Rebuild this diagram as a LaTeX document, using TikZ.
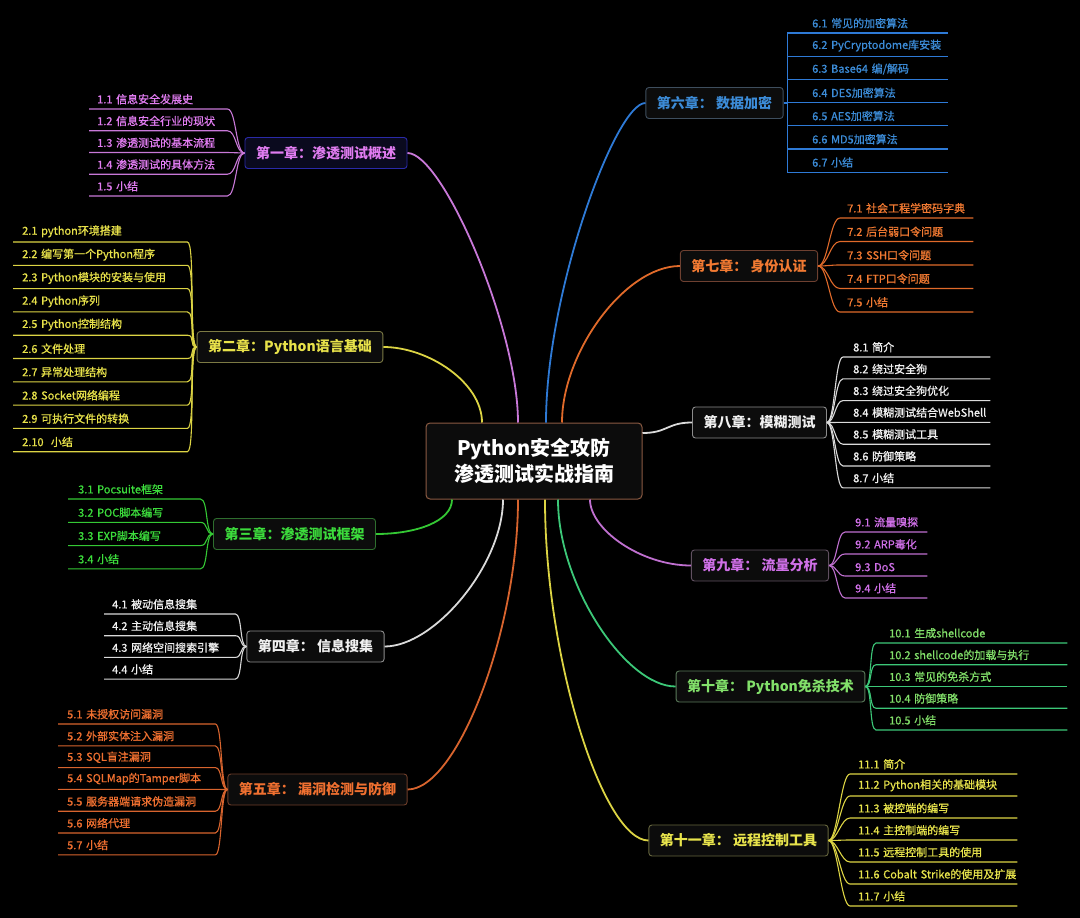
\documentclass[tikz,border=0pt]{standalone}
\usepackage{fontspec}
\setmainfont{Noto Sans CJK SC}
\newfontfamily\topicfont{Noto Sans CJK SC}[FakeBold=0.8, WordSpace=0.6]
\usepackage{tikz}
\usepackage{xcolor}

\definecolor{rootframe}{HTML}{8A5A42}
\definecolor{boxfill}{HTML}{0C0C0C}
\definecolor{c1text}{HTML}{E07CF0}  \definecolor{c1line}{HTML}{C878D8}  \definecolor{c1frame}{HTML}{2A2AA8}
\definecolor{c2text}{HTML}{E8E24A}  \definecolor{c2line}{HTML}{DCD444}  \definecolor{c2frame}{HTML}{7C7A44}
\definecolor{c3text}{HTML}{3CDC3C}  \definecolor{c3line}{HTML}{34C834}  \definecolor{c3frame}{HTML}{2E6E2E}
\definecolor{c4text}{HTML}{F0F0F0}  \definecolor{c4line}{HTML}{DADADA}  \definecolor{c4frame}{HTML}{8C8C8C}
\definecolor{c5text}{HTML}{F07030}  \definecolor{c5line}{HTML}{D8642E}  \definecolor{c5frame}{HTML}{6E3E2A}
\definecolor{c6text}{HTML}{3C8CD8}  \definecolor{c6line}{HTML}{2E7AD6}  \definecolor{c6frame}{HTML}{3E4E5E}
\definecolor{c7text}{HTML}{F27A32}  \definecolor{c7line}{HTML}{E06A2A}  \definecolor{c7frame}{HTML}{6E4030}
\definecolor{c9text}{HTML}{D070E8}  \definecolor{c9line}{HTML}{C070D0}  \definecolor{c9frame}{HTML}{605060}
\definecolor{c10text}{HTML}{82E06A} \definecolor{c10line}{HTML}{3CC878} \definecolor{c10frame}{HTML}{5A7A5A}
\definecolor{c11text}{HTML}{E8E44C} \definecolor{c11line}{HTML}{DCD444} \definecolor{c11frame}{HTML}{66663E}
\definecolor{ch1fill}{HTML}{0A0A1E}

\tikzset{
    root-box/.style = {draw=rootframe, fill=boxfill, line width=1pt, rounded corners=4pt, minimum width=216pt, minimum height=76pt, align=center, text=white, font=\bfseries\fontsize{20}{26}\selectfont},
    chapter-box/.style = {fill=boxfill, line width=0.9pt, rounded corners=3pt, minimum height=31pt, inner xsep=11pt, font=\bfseries\fontsize{14}{16}\selectfont},
    topic/.style = {anchor=south west, inner xsep=0pt, inner ysep=4.5pt, align=left, font=\topicfont\fontsize{11}{13}\selectfont},
    branch/.style = {line width=1.8pt},
    twig/.style = {line width=1.1pt},
}

\begin{document}
\begin{tikzpicture}[x=1pt, y=-1pt]
\fill[black] (0,0) rectangle (1080,918);
\useasboundingbox (0,0) rectangle (1080,918);

\node[root-box] (root) at (534,461) {Python安全攻防\\渗透测试实战指南};

% left side
\node[chapter-box, draw=c1frame, fill=ch1fill, text=c1text] (ch1) at (326,153) {第一章：渗透测试概述};
\node[chapter-box, draw=c2frame, text=c2text] (ch2) at (290,347) {第二章：Python语言基础};
\node[chapter-box, draw=c3frame, text=c3text] (ch3) at (294.5,534) {第三章：渗透测试框架};
\node[chapter-box, draw=c4frame, text=c4text] (ch4) at (315.5,646.5) {第四章： 信息搜集};
\node[chapter-box, draw=c5frame, text=c5text] (ch5) at (317.5,789.5) {第五章： 漏洞检测与防御};

% right side
\node[chapter-box, draw=c6frame, text=c6text] (ch6) at (714.5,103) {第六章： 数据加密};
\node[chapter-box, draw=c7frame, text=c7text] (ch7) at (749,266) {第七章： 身份认证};
\node[chapter-box, draw=c4frame, text=c4text] (ch8) at (759.5,422.5) {第八章：模糊测试};
\node[chapter-box, draw=c9frame, text=c9text] (ch9) at (760,565.5) {第九章： 流量分析};
\node[chapter-box, draw=c10frame, text=c10text] (ch10) at (770.5,686.5) {第十章： Python免杀技术};
\node[chapter-box, draw=c11frame, text=c11text] (ch11) at (738.5,840.5) {第十一章： 远程控制工具};

% main branches
\draw[branch, c1line] ([xshift=-16pt]root.north) .. controls +(0,-95) and +(35,0) .. (ch1.east);
\draw[branch, c2line] ([xshift=-52pt]root.north) .. controls +(0,-40) and +(45,0) .. (ch2.east);
\draw[branch, c6line] ([xshift=12pt]root.north) .. controls +(0,-130) and +(-30,0) .. (ch6.west);
\draw[branch, c7line] ([xshift=28pt]root.north) .. controls +(0,-70) and +(-55,0) .. (ch7.west);
\draw[branch, c4line] ([yshift=28pt]root.east) .. controls +(25,0) and +(-25,0) .. (ch8.west);
\draw[branch, c3line] ([xshift=-82pt]root.south) .. controls +(0,22) and +(40,0) .. (ch3.east);
\draw[branch, c4line] ([xshift=-31pt]root.south) .. controls +(0,65) and +(50,0) .. (ch4.east);
\draw[branch, c5line] ([xshift=-16pt]root.south) .. controls +(0,130) and +(50,0) .. (ch5.east);
\draw[branch, c9line] ([xshift=56pt]root.south) .. controls +(0,30) and +(-50,0) .. (ch9.west);
\draw[branch, c10line] ([xshift=24pt]root.south) .. controls +(0,85) and +(-50,0) .. (ch10.west);
\draw[branch, c11line] ([xshift=11pt]root.south) .. controls +(0,160) and +(-45,0) .. (ch11.west);

% chapter 1
\foreach \t [count=\i] in {1.1 信息安全发展史, 1.2 信息安全行业的现状, 1.3 渗透测试的基本流程, 1.4 渗透测试的具体方法, 1.5 小结} {
    \node[topic, text width=130pt, text=c1text] (ch1-\i) at (97,{109+21.75*(\i-1)}) {\mbox{\t}};
    \draw[twig, c1line] ([xshift=-8pt]ch1-\i.south west) -- (ch1-\i.south east) .. controls +(9,0) and +(-9,0) .. (ch1.west);
}
% chapter 2
\foreach \t [count=\i] in {2.1 python环境搭建, 2.2 编写第一个Python程序, 2.3 Python模块的安装与使用, 2.4 Python序列, 2.5 Python控制结构, 2.6 文件处理, 2.7 异常处理结构, 2.8 Socket网络编程, 2.9 可执行文件的转换, 2.10~~小结} {
    \node[topic, text width=165pt, text=c2text] (ch2-\i) at (22,{242+23.3*(\i-1)}) {\mbox{\t}};
    \draw[twig, c2line] ([xshift=-9pt]ch2-\i.south west) -- (ch2-\i.south east) .. controls +(8,0) and +(-8,0) .. (ch2.west);
}
% chapter 3
\foreach \t [count=\i] in {3.1 Pocsuite框架, 3.2 POC脚本编写, 3.3 EXP脚本编写, 3.4 小结} {
    \node[topic, text width=122pt, text=c3text] (ch3-\i) at (78,{499+23.3*(\i-1)}) {\mbox{\t}};
    \draw[twig, c3line] ([xshift=-10pt]ch3-\i.south west) -- (ch3-\i.south east) .. controls +(8,0) and +(-8,0) .. (ch3.west);
}
% chapter 4
\foreach \t [count=\i] in {4.1 被动信息搜集, 4.2 主动信息搜集, 4.3 网络空间搜索引擎, 4.4 小结} {
    \node[topic, text width=123pt, text=c4text] (ch4-\i) at (112,{614+21.7*(\i-1)}) {\mbox{\t}};
    \draw[twig, c4line] ([xshift=-8pt]ch4-\i.south west) -- (ch4-\i.south east) .. controls +(7,0) and +(-7,0) .. (ch4.west);
}
% chapter 5
\foreach \t [count=\i] in {5.1 未授权访问漏洞, 5.2 外部实体注入漏洞, 5.3 SQL盲注漏洞, 5.4 SQLMap的Tamper脚本, 5.5 服务器端请求伪造漏洞, 5.6 网络代理, 5.7 小结} {
    \node[topic, text width=148pt, text=c5text] (ch5-\i) at (67,{724+21.8*(\i-1)}) {\mbox{\t}};
    \draw[twig, c5line] ([xshift=-9pt]ch5-\i.south west) -- (ch5-\i.south east) .. controls +(7,0) and +(-7,0) .. (ch5.west);
}
% chapter 6
\coordinate (ch6-hub) at ([xshift=4pt]ch6.east);
\draw[twig, c6line] (ch6.east) -- (ch6-hub);
\foreach \t [count=\i] in {6.1 常见的加密算法, 6.2 PyCryptodome库安装, 6.3 Base64 编/解码, 6.4 DES加密算法, 6.5 AES加密算法, 6.6 MD5加密算法, 6.7 小结} {
    \node[topic, text width=136pt, text=c6text] (ch6-\i) at (812,{33+23.2*(\i-1)}) {\mbox{\t}};
    \draw[twig, c6line] (ch6-hub) |- (ch6-\i.south east);
}
% chapter 7
\foreach \t [count=\i] in {7.1 社会工程学密码字典, 7.2 后台弱口令问题, 7.3 SSH口令问题, 7.4 FTP口令问题, 7.5 小结} {
    \node[topic, text width=126pt, text=c7text] (ch7-\i) at (847,{218+23.5*(\i-1)}) {\mbox{\t}};
    \draw[twig, c7line] (ch7.east) .. controls +(10,0) and +(-10,0) .. ([xshift=-7pt]ch7-\i.south west) -- (ch7-\i.south east);
}
% chapter 8
\foreach \t [count=\i] in {8.1 简介, 8.2 绕过安全狗, 8.3 绕过安全狗优化, 8.4 模糊测试结合WebShell, 8.5 模糊测试工具, 8.6 防御策略, 8.7 小结} {
    \node[topic, text width=137pt, text=c4text] (ch8-\i) at (853,{357+21.8*(\i-1)}) {\mbox{\t}};
    \draw[twig, c4line] (ch8.east) .. controls +(8,0) and +(-8,0) .. ([xshift=-10pt]ch8-\i.south west) -- (ch8-\i.south east);
}
% chapter 9
\foreach \t [count=\i] in {9.1 流量嗅探, 9.2 ARP毒化, 9.3 DoS, 9.4 小结} {
    \node[topic, text width=72pt, text=c9text] (ch9-\i) at (855,{532+22*(\i-1)}) {\mbox{\t}};
    \draw[twig, c9line] (ch9.east) .. controls +(8,0) and +(-8,0) .. ([xshift=-10pt]ch9-\i.south west) -- (ch9-\i.south east);
}
% chapter 10
\foreach \t [count=\i] in {10.1 生成shellcode, 10.2 shellcode的加载与执行, 10.3 常见的免杀方式, 10.4 防御策略, 10.5 小结} {
    \node[topic, text width=178pt, text=c10text] (ch10-\i) at (889,{643+21.75*(\i-1)}) {\mbox{\t}};
    \draw[twig, c10line] (ch10.east) .. controls +(7,0) and +(-7,0) .. ([xshift=-13pt]ch10-\i.south west) -- (ch10-\i.south east);
}
% chapter 11
\foreach \t [count=\i] in {11.1 简介, 11.2 Python相关的基础模块, 11.3 被控端的编写, 11.4 主控制端的编写, 11.5 远程控制工具的使用, 11.6 Cobalt Strike的使用及扩展, 11.7 小结} {
    \node[topic, text width=159pt, text=c11text] (ch11-\i) at (858,{774+22*(\i-1)}) {\mbox{\t}};
    \draw[twig, c11line] (ch11.east) .. controls +(9,0) and +(-9,0) .. ([xshift=-8pt]ch11-\i.south west) -- (ch11-\i.south east);
}
\end{tikzpicture}
\end{document}
